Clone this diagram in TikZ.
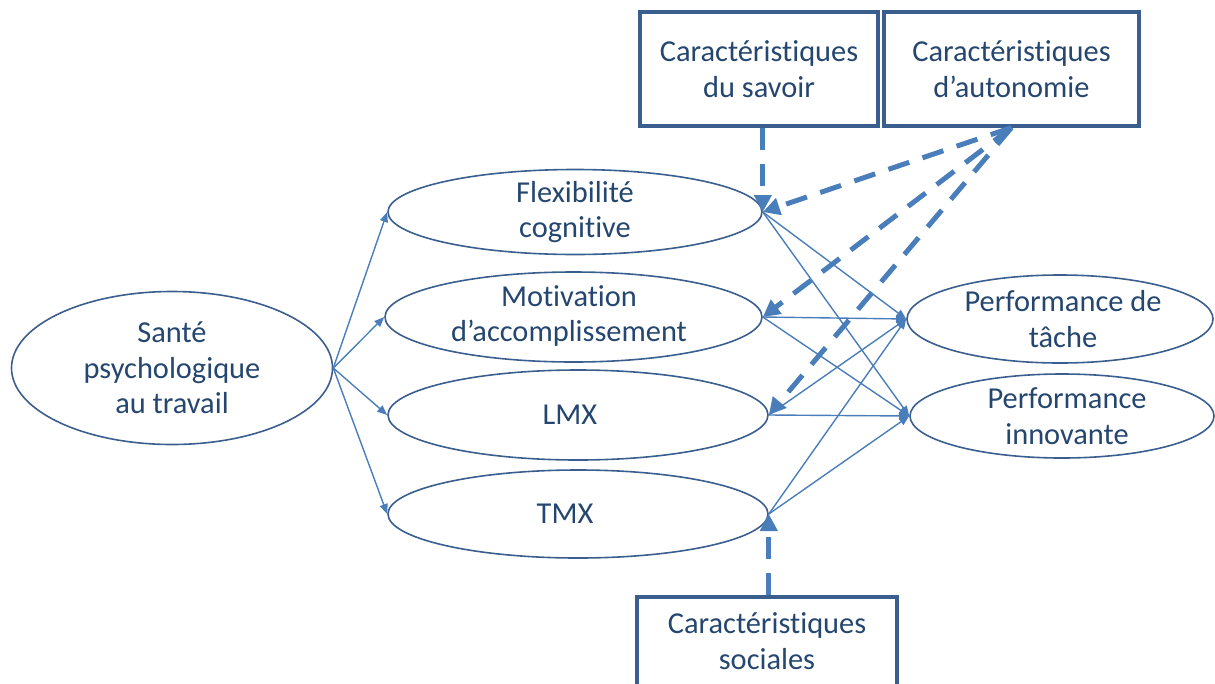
\documentclass[tikz,border=0pt]{standalone}
\usepackage{fontspec}
\setmainfont{Carlito}[Ligatures=NoCommon]
\usetikzlibrary{shapes.geometric,arrows.meta}
\definecolor{txtblue}{HTML}{24466F}
\definecolor{edgeblue}{HTML}{3A5F8F}
\definecolor{arrblue}{HTML}{4A7EBB}
\tikzset{
  ell/.style={ellipse, draw=edgeblue, line width=1.6pt, inner sep=0pt},
  lbl/.style={text=txtblue, font=\fontsize{30.4}{35.5}\selectfont, align=center, inner sep=0pt},
  boxnode/.style={rectangle, draw=edgeblue, line width=3.2pt, inner sep=0pt, text=txtblue,
    font=\fontsize{30.4}{35.5}\selectfont, align=center},
  thin/.style={draw=arrblue, line width=1.4pt, -{Triangle[length=10pt,width=8pt]}},
  thick/.style={draw=arrblue, line width=5pt, dash pattern=on 22pt off 14pt,
    -{Triangle[length=17pt,width=17pt]}}
}
\begin{document}
\begin{tikzpicture}[x=1pt,y=-1pt]
\useasboundingbox (0,0) rectangle (1215,683);
% ellipses
\node[ell, minimum width=321pt, minimum height=153pt] (sante) at (172,368) {};
\node[lbl] (santelbl) at (172,368) {Santé\\psychologique\\au travail};
\node[ell, minimum width=374pt, minimum height=85pt] (flex) at (575,212) {};
\node[lbl] (flexlbl) at (575,212) {Flexibilité\\cognitive};
\node[ell, minimum width=377pt, minimum height=90pt] (mot) at (573.5,317) {};
\node[lbl] (motlbl) at (569,316) {Motivation\\d’accomplissement};
\node[ell, minimum width=380pt, minimum height=90pt] (lmx) at (578,415) {};
\node[lbl] (lmxlbl) at (570,415) {LMX};
\node[ell, minimum width=380pt, minimum height=88pt] (tmx) at (578,514) {};
\node[lbl] (tmxlbl) at (565,514) {TMX};
\node[ell, minimum width=306pt, minimum height=88pt] (tache) at (1060,319) {};
\node[lbl] (tachelbl) at (1063,319) {Performance de\\tâche};
\node[ell, minimum width=304pt, minimum height=84pt] (innov) at (1062,416) {};
\node[lbl] (innovlbl) at (1067,416) {Performance\\innovante};
% boxes
\node[boxnode, minimum width=238pt, minimum height=114pt] (savoir) at (759,69) {Caractéristiques\\du savoir};
\node[boxnode, minimum width=255pt, minimum height=114pt] (auto) at (1011.5,69) {Caractéristiques\\d’autonomie};
\node[boxnode, minimum width=260pt, minimum height=114pt] (soc) at (767,654) {};
\node[lbl] (soclbl) at (767,641) {Caractéristiques\\sociales};
% sources of dashed connectors
\coordinate (savsrc) at (flex.east |- savoir.south);
\coordinate (socsrc) at (tmx.east |- soc.north);
\coordinate (autsrc) at (auto.south);
% solid connectors
\draw[thin] (sante.east) -- (flex.west);
\draw[thin] (sante.east) -- (mot.west);
\draw[thin] (sante.east) -- (lmx.west);
\draw[thin] (sante.east) -- (tmx.west);
\foreach \s in {flex,mot,lmx,tmx}{
  \draw[thin] (\s.east) -- (tache.west);
  \draw[thin] (\s.east) -- (innov.west);
}
% dashed connectors
\draw[thick] (savsrc) -- (flex.east);
\draw[thick] (autsrc) -- (flex.east);
\draw[thick] (autsrc) -- (mot.east);
\draw[thick] (autsrc) -- (lmx.east);
\draw[thick] (socsrc) -- (tmx.east);
\end{tikzpicture}
\end{document}
